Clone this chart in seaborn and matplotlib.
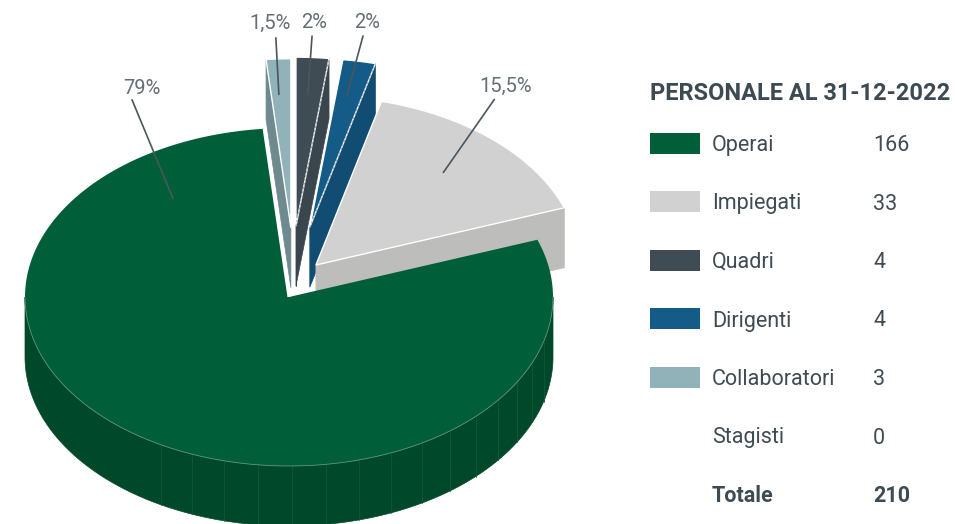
import numpy as np
import matplotlib
matplotlib.use("Agg")
import matplotlib.pyplot as plt
from matplotlib.patches import Polygon, Rectangle
import seaborn as sns

# ---- data ----
categories = ["Operai", "Impiegati", "Quadri", "Dirigenti", "Collaboratori", "Stagisti"]
counts = [166, 33, 4, 4, 3, 0]
total_label = "Totale"
total = 210
title = "PERSONALE AL 31-12-2022"

# slices as drawn, counter-clockwise starting from the grey one
pie_names = ["Impiegati", "Dirigenti", "Quadri", "Collaboratori", "Operai"]
pie_percent = [15.5, 2, 2, 1.5, 79]

# ---- style ----
top_col = {"Operai": "#005f38", "Impiegati": "#d1d1d1", "Quadri": "#3f4c54",
           "Dirigenti": "#155b87", "Collaboratori": "#91b2b8"}
side_col = {"Operai": "#00482a", "Impiegati": "#bdbdbb", "Quadri": "#3a464e",
            "Dirigenti": "#114d73", "Collaboratori": "#6e8a8f"}
# explode: (distance in radii, direction in degrees or None = mid angle)
explode = {"Operai": (0.0, None), "Impiegati": (0.215, 61.7), "Dirigenti": (0.42, None),
           "Quadri": (0.42, None), "Collaboratori": (0.41, 89)}
# leader lines: (ang_in, r_in, ang_out, r_out, ang_txt, r_txt) relative to slice apex
label_spec = {"Operai": (127, 0.73, 117, 1.31, 114.2, 1.36),
              "Impiegati": (48.6, 0.73, 55.4, 1.19, 55.9, 1.28),
              "Collaboratori": (93.3, 0.79, 92.9, 1.125, 93.7, 1.22),
              "Quadri": (86.7, 0.78, 86.9, 1.126, 86.8, 1.21),
              "Dirigenti": (79.8, 0.795, 79.9, 1.15, 79.9, 1.234)}
draw_order = ["Collaboratori", "Quadri", "Dirigenti", "Impiegati", "Operai"]

CX, CY, RX, RY, DEPTH = 289, 297, 264, 169, 60
START = 19.8

sns.set_theme(style="white")
plt.rcParams['font.family'] = ['Roboto', 'DejaVu Sans']
TXT = "#3f4b53"
PCT = "#646e76"

fig = plt.figure(figsize=(9.55, 5.24), dpi=100)
ax = fig.add_axes([0, 0, 1, 1])
ax.set_xlim(0, 955)
ax.set_ylim(524, 0)
ax.axis("off")


def pt(ox, oy, ang, r=1.0):
    a = np.radians(ang)
    return ox + r * RX * np.cos(a), oy - r * RY * np.sin(a)


# slice angles
angles = {}
a0 = START
for name, p in zip(pie_names, pie_percent):
    a1 = a0 + p * 3.6
    angles[name] = (a0, a1)
    a0 = a1

apex = {}
for name in pie_names:
    t1, t2 = angles[name]
    dist, d = explode[name]
    if d is None:
        d = (t1 + t2) / 2
    apex[name] = pt(CX, CY, d, dist)

for name in draw_order:
    t1, t2 = angles[name]
    ox, oy = apex[name]
    top, side = top_col[name], side_col[name]

    # radial faces facing the viewer
    for t, vis in ((t1, np.cos(np.radians(t1)) > 0), (t2, np.cos(np.radians(t2)) < 0)):
        if vis:
            px, py = pt(ox, oy, t)
            ax.add_patch(Polygon([(ox, oy), (px, py), (px, py + DEPTH), (ox, oy + DEPTH)],
                                 closed=True, fc=side, ec=side, lw=0.5, zorder=1))

    # outer wall (front half)
    for k in (0, 360):
        a, b = max(t1, 180 + k), min(t2, 360 + k)
        if b > a:
            th = np.linspace(a, b, 200)
            xs, ys = pt(ox, oy, th)
            poly = np.column_stack([np.r_[xs, xs[::-1]], np.r_[ys, ys[::-1] + DEPTH]])
            ax.add_patch(Polygon(poly, closed=True, fc=side, ec=side, lw=0.5, zorder=1))
            if name == "Operai":
                for tl in np.arange(241, 350, 7.4):
                    lx, ly = pt(ox, oy, tl)
                    ax.plot([lx, lx], [ly, ly + DEPTH], color="#12573a", lw=0.6, zorder=1)
                ax.plot(xs, ys, color="#5d9479", lw=0.6, zorder=3)

    # top face
    th = np.linspace(t1, t2, 200)
    xs, ys = pt(ox, oy, th)
    poly = np.column_stack([np.r_[ox, xs], np.r_[oy, ys]])
    if name == "Operai":
        ax.add_patch(Polygon(poly, closed=True, fc=top, ec="none", zorder=2))
        px, py = pt(ox, oy, t1)
        ax.plot([ox, px], [oy, py], color="white", lw=2.2, zorder=2,
                solid_capstyle="butt")
    else:
        ax.add_patch(Polygon(poly, closed=True, fc=top, ec="white", lw=1.0, zorder=1))
        if name in ("Quadri", "Dirigenti"):
            px, py = pt(ox, oy, t1)
            ax.plot([ox, px], [oy, py], color="#8a9aa5", lw=0.6, ls=(0, (3, 2)), zorder=1)

# percentage labels with leader lines
for name, p in zip(pie_names, pie_percent):
    ox, oy = apex[name]
    ai, ri, ao, ro, at, rt = label_spec[name]
    x1, y1 = pt(ox, oy, ai, ri)
    x2, y2 = pt(ox, oy, ao, ro)
    ax.plot([x1, x2], [y1, y2], color="#4a565e", lw=1.2, zorder=4)
    tx, ty = pt(ox, oy, at, rt)
    ax.text(tx, ty + 1, f"{p:g}".replace(".", ",") + "%", ha="center", va="center",
            fontsize=14.5, color=PCT, zorder=5)

# legend table
ax.text(650, 93, title, ha="left", va="center", fontsize=17, fontweight="bold",
        color="#3d4a52")
row_y = 143
for name, c in zip(categories, counts):
    if name in top_col:
        ax.add_patch(Rectangle((650, row_y - 10.5), 50, 21, fc=top_col[name], ec="none"))
    ax.text(712, row_y + 2.5, name, ha="left", va="center", fontsize=15.5, color=TXT)
    ax.text(873, row_y + 2.5, str(c), ha="left", va="center", fontsize=15.5, color=TXT)
    row_y += 58.5
ax.text(712, row_y + 2.5, total_label, ha="left", va="center", fontsize=15.5,
        fontweight="bold", color=TXT)
ax.text(873, row_y + 2.5, str(total), ha="left", va="center", fontsize=15.5,
        fontweight="bold", color=TXT)

fig.savefig("out.png", dpi=100)
